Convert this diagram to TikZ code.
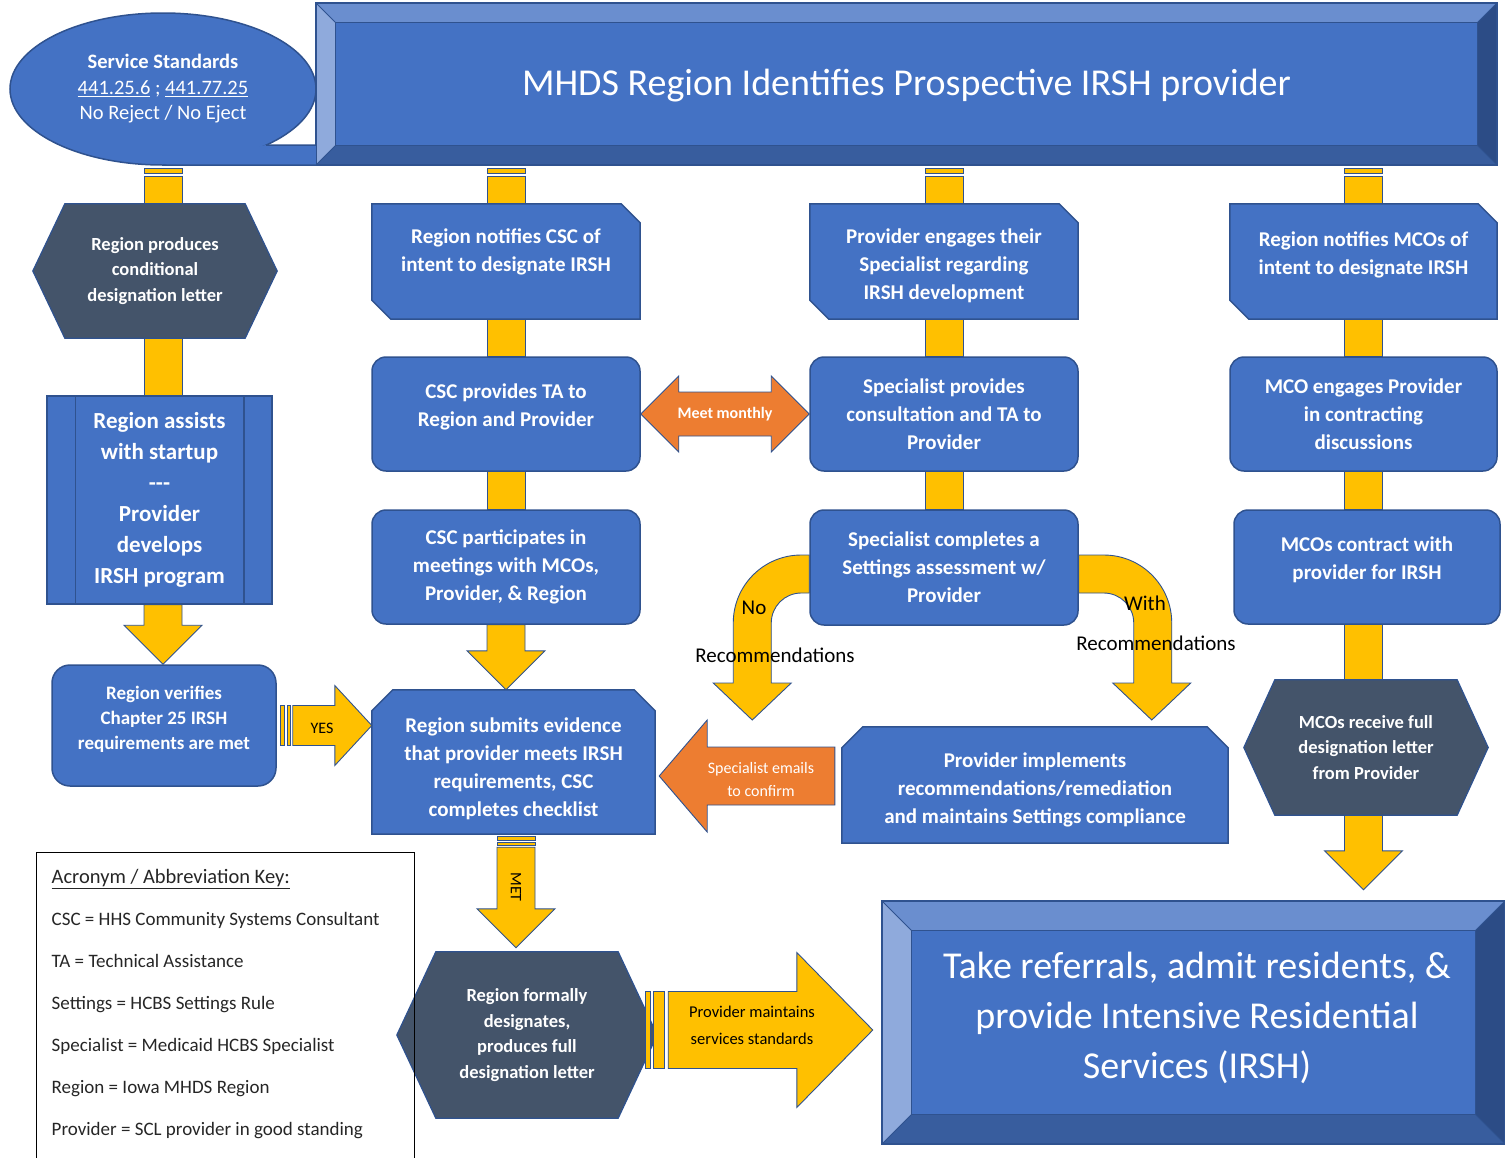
\documentclass[tikz,border=0pt]{standalone}
\usepackage{fontspec}
\setmainfont{Carlito}
\usetikzlibrary{calc,backgrounds,shapes.geometric}
\definecolor{mblue}{HTML}{4472C4}
\definecolor{bdr}{HTML}{2F528F}
\definecolor{slate}{HTML}{44546A}
\definecolor{ylw}{HTML}{FFC000}
\definecolor{orng}{HTML}{ED7D31}
\definecolor{bvtop}{HTML}{6A8ECF}
\definecolor{bvleft}{HTML}{8FAADC}
\definecolor{bvbot}{HTML}{385D9E}
\definecolor{bvright}{HTML}{2C4C86}
\tikzset{
  txt/.style={text=white, align=center, inner sep=0pt},
  bold21/.style={font=\bfseries\fontsize{21}{28}\selectfont},
  rbox/.style={txt, bold21, rectangle, rounded corners=14pt, fill=mblue, draw=bdr, line width=1.5pt, minimum width=268pt, minimum height=114pt},
  sbox/.style={txt, bold21, minimum width=268pt, minimum height=115pt},
  hbox/.style={txt, font=\bfseries\fontsize{18.5}{25.5}\selectfont},
  shapefill/.style={fill=mblue, draw=bdr, line width=1.5pt},
  hexfill/.style={fill=slate, draw=bdr, line width=1.2pt},
  ybar/.style={fill=ylw, draw=bdr, line width=0.9pt},
  obar/.style={fill=orng, draw=bdr, line width=0.9pt},
  lbl/.style={text=black, align=center, inner sep=0pt, font=\fontsize{21}{26}\selectfont},
}
\newcommand{\dip}[1]{\rule[-#1]{0pt}{0pt}}
\newcommand{\drop}[1]{\rule{0pt}{#1}}
\newcommand{\vbar}[2]{\draw[ybar] ($(#1)+(-19,0)$) rectangle ($(#2)+(19,0)$);}
\newcommand{\sbar}[2]{%
  \draw[ybar] ($(#1)+(-19,3)$) rectangle ($(#1)+(19,8)$);
  \draw[ybar] ($(#1)+(-19,11)$) rectangle ($(#2)+(19,0)$);}
\newcommand{\darr}[2]{\draw[ybar] ($(#1)+(-19,0)$) -- ($(#2)+(-19,-39)$) -- ($(#2)+(-39,-39)$) -- (#2) -- ($(#2)+(39,-39)$) -- ($(#2)+(19,-39)$) -- ($(#1)+(19,0)$) -- cycle;}
\newcommand{\bevel}[2]{%
  \fill[bvtop] (#1.north west) -- (#1.north east) -- ($(#1.north east)+(-#2,#2)$) -- ($(#1.north west)+(#2,#2)$) -- cycle;
  \fill[bvleft] (#1.north west) -- ($(#1.north west)+(#2,#2)$) -- ($(#1.south west)+(#2,-#2)$) -- (#1.south west) -- cycle;
  \fill[bvbot] (#1.south west) -- ($(#1.south west)+(#2,-#2)$) -- ($(#1.south east)+(-#2,-#2)$) -- (#1.south east) -- cycle;
  \fill[bvright] (#1.north east) -- (#1.south east) -- ($(#1.south east)+(-#2,-#2)$) -- ($(#1.north east)+(-#2,#2)$) -- cycle;
  \draw[bdr, line width=1pt, fill=mblue] ($(#1.north west)+(#2,#2)$) rectangle ($(#1.south east)+(-#2,-#2)$);
  \draw[bdr, line width=0.8pt] (#1.north west) -- ($(#1.north west)+(#2,#2)$) (#1.north east) -- ($(#1.north east)+(-#2,#2)$) (#1.south west) -- ($(#1.south west)+(#2,-#2)$) (#1.south east) -- ($(#1.south east)+(-#2,-#2)$);
  \draw[bdr, line width=1.5pt] (#1.north west) rectangle (#1.south east);}
\begin{document}
\begin{tikzpicture}[x=1pt,y=-1pt]
\useasboundingbox (0,0) rectangle (1505,1157);
\node (banner) [txt, minimum width=1181pt, minimum height=162pt, font=\fontsize{38}{46}\selectfont] at (906.5,84) {\drop{29pt}MHDS Region Identifies Prospective IRSH provider};
\node (stds) [txt, ellipse, fill=mblue, draw=bdr, line width=1.5pt, minimum width=306pt, minimum height=152pt, font=\fontsize{20.5}{25.5}\selectfont] at (163,89) {\textbf{Service Standards}\\\underline{441.25.6} ; \underline{441.77.25}\\No Reject / No Eject};
\fill[mblue] ($(stds.center)+(103,56)$) -- ($(banner.south west)+(0,-20)$) -- (banner.south west) -- ($(stds.center)+(0,76)$) -- cycle;
\draw[bdr, line width=1.5pt] ($(stds.center)+(103,56)$) -- ($(banner.south west)+(0,-20)$);
\draw[bdr, line width=1.5pt] ($(stds.center)+(0,76)$) -- (banner.south west);

\node (hexA) [hbox, minimum width=244pt, minimum height=134pt] at (155,271) {Region produces\\conditional\\designation letter};
\node (assist) [txt, rectangle, fill=mblue, draw=bdr, line width=1.5pt, minimum width=225pt, minimum height=208pt, font=\bfseries\fontsize{23}{31}\selectfont] at (159.5,500) {Region assists\\with startup\\-{}-{}-\\Provider\\develops\\IRSH program};
\draw[bdr, line width=1.5pt] ($(assist.north west)+(29,0)$) -- ($(assist.south west)+(29,0)$);
\draw[bdr, line width=1.5pt] ($(assist.north east)+(-29,0)$) -- ($(assist.south east)+(-29,0)$);
\node (verify) [rbox, rounded corners=18pt, minimum width=224pt, minimum height=121pt, font=\bfseries\fontsize{19}{25}\selectfont] at (164,725.5) {Region verifies\\Chapter 25 IRSH\\requirements are met\dip{14.5pt}};

\node (notifyCSC) [sbox] at (506,261.5) {Region notifies CSC of\\intent to designate IRSH\dip{22pt}};
\node (cscTA) [rbox] at (506,414) {CSC provides TA to\\Region and Provider\dip{17pt}};
\node (cscMeet) [rbox] at (506,567) {CSC participates in\\meetings with MCOs,\\Provider, \& Region};
\node (submit) [sbox, minimum width=283pt, minimum height=144pt] at (513.5,762) {\drop{28pt}Region submits evidence\\that provider meets IRSH\\requirements, CSC\\completes checklist};
\node (formal) [hbox, minimum width=260pt, minimum height=166pt] at (527,1035) {Region formally\\designates,\\produces full\\designation letter};

\node (engage) [sbox] at (944,261.5) {\drop{24pt}Provider engages their\\Specialist regarding\\IRSH development};
\node (specTA) [rbox] at (944,414) {Specialist provides\\consultation and TA to\\Provider};
\node (assess) [rbox, minimum height=115pt] at (944,567.5) {Specialist completes a\\Settings assessment w/\\Provider};
\node (implement) [sbox, minimum width=386pt, minimum height=116pt] at (1035,785) {\drop{24pt}Provider implements\\recommendations/remediation\\and maintains Settings compliance};

\node (notifyMCO) [sbox, minimum width=267pt] at (1363.5,261.5) {Region notifies MCOs of\\intent to designate IRSH\dip{16pt}};
\node (mcoEng) [rbox, minimum width=267pt] at (1363.5,414) {MCO engages Provider\\in contracting\\discussions};
\node (contract) [rbox, minimum width=266pt] at (1367,567) {MCOs contract with\\provider for IRSH\dip{17pt}};
\node (mcoRecv) [hbox, minimum width=244pt, minimum height=135pt] at (1366,747.5) {MCOs receive full\\designation letter\\from Provider};
\node (final) [txt, minimum width=623pt, minimum height=243pt, font=\fontsize{38}{50}\selectfont] at (1193.5,1022.5) {\hspace*{7pt}Take referrals, admit residents, \&\\\hspace*{7pt}provide Intensive Residential\\\hspace*{7pt}Services (IRSH)\dip{14pt}};

\node (key) [draw=black, line width=1pt, minimum width=378pt, minimum height=320pt, inner sep=0pt] at (225,1012) {};
\node (keyTxt) [anchor=north west, align=left, inner sep=0pt, text=black!85, font=\fontsize{19}{42}\selectfont] at ($(key.north west)+(16,18)$) {{\fontsize{20.5}{42}\selectfont\underline{Acronym / Abbreviation Key:}}\\CSC = HHS Community Systems Consultant\\TA = Technical Assistance\\Settings = HCBS Settings Rule\\Specialist = Medicaid HCBS Specialist\\Region = Iowa MHDS Region\\Provider = SCL provider in good standing};

\coordinate (recvTip) at ($(mcoEng.south |- final.north)+(0,-11)$);
\coordinate (metTop) at ($(submit.south)+(2.5,0)$);
\coordinate (metBody) at ($(metTop)+(0,13)$);
\coordinate (metTip) at ($(metTop |- formal.north)+(0,-4)$);

\begin{scope}[on background layer]
\sbar{stds.south |- banner.south}{stds.south |- hexA.north}
\vbar{stds.south |- hexA.south}{stds.south |- assist.north}
\darr{stds.south |- assist.south}{stds.south |- verify.north}
\sbar{notifyCSC.north |- banner.south}{notifyCSC.north}
\vbar{notifyCSC.south}{cscTA.north}
\vbar{cscTA.south}{cscMeet.north}
\darr{cscMeet.south}{cscMeet.south |- submit.north}
\draw[ybar] ($(metTop)+(-19,2)$) rectangle ($(metTop)+(19,6)$);
\draw[ybar] ($(metTop)+(-19,8)$) rectangle ($(metTop)+(19,11)$);
\darr{metBody}{metTip}
\sbar{engage.north |- banner.south}{engage.north}
\vbar{engage.south}{specTA.north}
\vbar{specTA.south}{assess.north}
\sbar{notifyMCO.north |- banner.south}{notifyMCO.north}
\vbar{notifyMCO.south}{mcoEng.north}
\vbar{mcoEng.south}{mcoEng.south |- contract.north}
\vbar{mcoEng.south |- contract.south}{mcoEng.south |- mcoRecv.north}
\darr{mcoEng.south |- mcoRecv.south}{recvTip}
\begin{scope}[shift={(assess.west)}]
\draw[ybar] (0,-12.5) -- (-8,-12.5) .. controls (-45.6,-12.5) and (-76,17.9) .. (-76,55.5) -- (-76,115.5) -- (-96,115.5) -- (-57,152.5) -- (-18,115.5) -- (-38,115.5) -- (-38,55.5) .. controls (-38,38.9) and (-24.6,25.5) .. (-8,25.5) -- (0,25.5) -- cycle;
\end{scope}
\begin{scope}[shift={(assess.east)}]
\draw[ybar] (0,-12.5) -- (25,-12.5) .. controls (62.6,-12.5) and (93,17.9) .. (93,55.5) -- (93,115.5) -- (112,115.5) -- (73,152.5) -- (34,115.5) -- (55,115.5) -- (55,55.5) .. controls (55,38.9) and (41.6,25.5) .. (25,25.5) -- (0,25.5) -- cycle;
\end{scope}
\foreach \n in {notifyCSC,engage,notifyMCO}
  \draw[shapefill] (\n.north west) -- ($(\n.north east)+(-19,0)$) -- ($(\n.north east)+(0,19)$) -- (\n.south east) -- ($(\n.south west)+(19,0)$) -- ($(\n.south west)+(0,-19)$) -- cycle;
\foreach \n in {submit,implement}
  \draw[shapefill] ($(\n.north west)+(0,21)$) -- ($(\n.north west)+(21,0)$) -- ($(\n.north east)+(-21,0)$) -- ($(\n.north east)+(0,21)$) -- (\n.south east) -- (\n.south west) -- cycle;
\foreach \n/\d in {hexA/32,formal/39,mcoRecv/31}
  \draw[hexfill] (\n.west) -- ($(\n.north west)+(\d,0)$) -- ($(\n.north east)+(-\d,0)$) -- (\n.east) -- ($(\n.south east)+(-\d,0)$) -- ($(\n.south west)+(\d,0)$) -- cycle;
\bevel{banner}{20}
\bevel{final}{30}
\end{scope}

\draw[obar] (cscTA.east) -- ($(cscTA.east)+(38,-38)$) -- ($(cscTA.east)+(38,-22)$) -- ($(specTA.west)+(-38,-22)$) -- ($(specTA.west)+(-38,-38)$) -- (specTA.west) -- ($(specTA.west)+(-38,38)$) -- ($(specTA.west)+(-38,22)$) -- ($(cscTA.east)+(38,22)$) -- ($(cscTA.east)+(38,38)$) -- cycle;
\node (meet) [txt, font=\bfseries\fontsize{16}{20}\selectfont] at ($(cscTA.east)!0.5!(specTA.west)$) {Meet monthly};

\coordinate (emTip) at ($(submit.east)+(4,14)$);
\coordinate (emTail) at ($(implement.west)+(-7,-9)$);
\draw[obar] (emTip) -- ($(emTip)+(48,-56)$) -- ($(emTip)+(48,-29)$) -- ($(emTail)+(0,-29)$) -- ($(emTail)+(0,29)$) -- ($(emTip)+(48,29)$) -- ($(emTip)+(48,56)$) -- cycle;
\node (emails) [txt, font=\fontsize{16}{23}\selectfont] at (761,779.5) {Specialist emails\\to confirm};

\coordinate (yTip) at (submit.west |- verify.east);
\draw[ybar] ($(verify.east)+(4,-20)$) rectangle ($(verify.east)+(8,20)$);
\draw[ybar] ($(verify.east)+(11,-20)$) rectangle ($(verify.east)+(14,20)$);
\draw[ybar] ($(verify.east)+(16,-20)$) -- ($(yTip)+(-37,-20)$) -- ($(yTip)+(-37,-40)$) -- (yTip) -- ($(yTip)+(-37,40)$) -- ($(yTip)+(-37,20)$) -- ($(verify.east)+(16,20)$) -- cycle;
\node (yes) [lbl, font=\fontsize{16}{20}\selectfont] at (322,728) {YES};

\coordinate (mTail) at ($(formal.east)+(-12,-5)$);
\coordinate (mTip) at ($(final.west)+(-9,7.5)$);
\draw[ybar] ($(mTail)+(0,-38.5)$) rectangle ($(mTail)+(5,38.5)$);
\draw[ybar] ($(mTail)+(8,-38.5)$) rectangle ($(mTail)+(19,38.5)$);
\draw[ybar] ($(mTail)+(23,-38.5)$) -- ($(mTip)+(-76,-38.5)$) -- ($(mTip)+(-76,-77.5)$) -- (mTip) -- ($(mTip)+(-76,77.5)$) -- ($(mTip)+(-76,38.5)$) -- ($(mTail)+(23,38.5)$) -- cycle;
\node (maint) [lbl, font=\fontsize{16.5}{27}\selectfont] at (752,1025.5) {Provider maintains\\services standards};

\node (met) [lbl, rotate=-90, font=\fontsize{16}{20}\selectfont] at (516,887) {MET};
\node (noLbl) [lbl] at (754,608) {No};
\node (recL) [lbl] at (775,655) {Recommendations};
\node (withLbl) [lbl] at (1145,603) {With};
\node (recR) [lbl] at (1156,643) {Recommendations};
\end{tikzpicture}
\end{document}
